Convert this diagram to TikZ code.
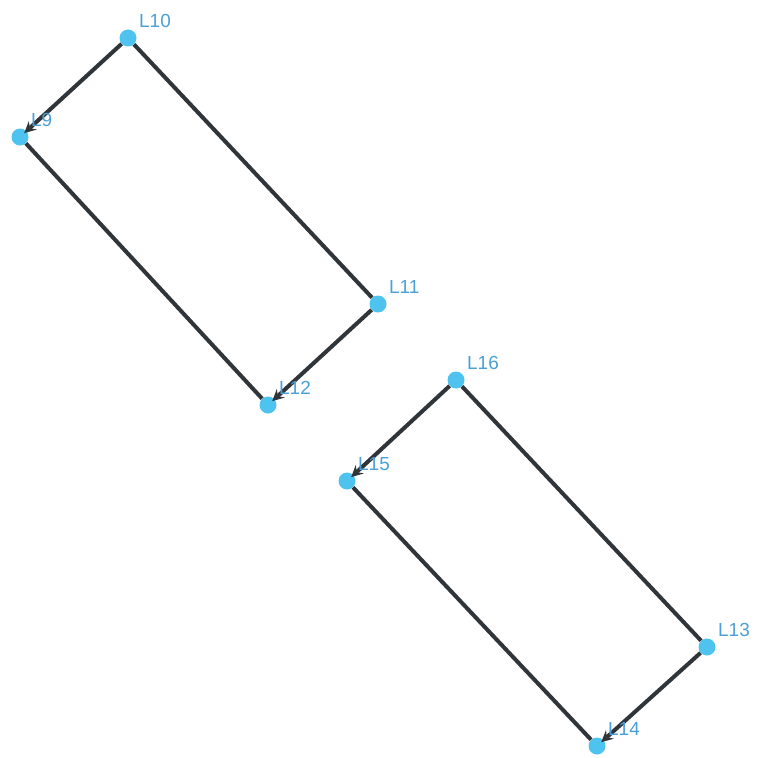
\documentclass[tikz,border=0pt]{standalone}
\usepackage{fontspec}
\setsansfont{Liberation Sans}
\usetikzlibrary{arrows,positioning,calc}
\definecolor{ptfill}{HTML}{4FC3F0}
\definecolor{pttext}{HTML}{4A9FD6}
\definecolor{edgecol}{HTML}{30353A}

\begin{document}
\begin{tikzpicture}[x=1bp, y=-1bp,
    pt/.style={circle, fill=ptfill, inner sep=0pt, minimum size=17bp},
    lbl/.style={text=pttext, font=\sffamily\fontsize{19}{21}\selectfont, anchor=south west, inner sep=0pt},
    edge/.style={edgecol, line width=4bp},
    arr/.style={edge, ->, >=stealth, shorten >=-3bp}]
    \useasboundingbox (0,0) rectangle (759,758);

    % Upper strip
    \node[pt] (l9)  at (20,137) {};
    \node[pt] (l10) at (128,38) {};
    \node[pt] (l11) at (378,304) {};
    \node[pt] (l12) at (268,405) {};

    % Lower strip
    \node[pt] (l13) at (707,647) {};
    \node[pt] (l14) at (597,746) {};
    \node[pt] (l15) at (347,481) {};
    \node[pt] (l16) at (456,380) {};

    \draw[edge] (l10) -- (l11);
    \draw[edge] (l9) -- (l12);
    \draw[arr] (l10) -- (l9);
    \draw[arr] (l11) -- (l12);

    \draw[edge] (l16) -- (l13);
    \draw[edge] (l15) -- (l14);
    \draw[arr] (l16) -- (l15);
    \draw[arr] (l13) -- (l14);

    % Labels
    \foreach \n in {9,...,16} {
        \node[lbl] at ($(l\n)+(11,-10)$) {L\n};
    }
\end{tikzpicture}
\end{document}
